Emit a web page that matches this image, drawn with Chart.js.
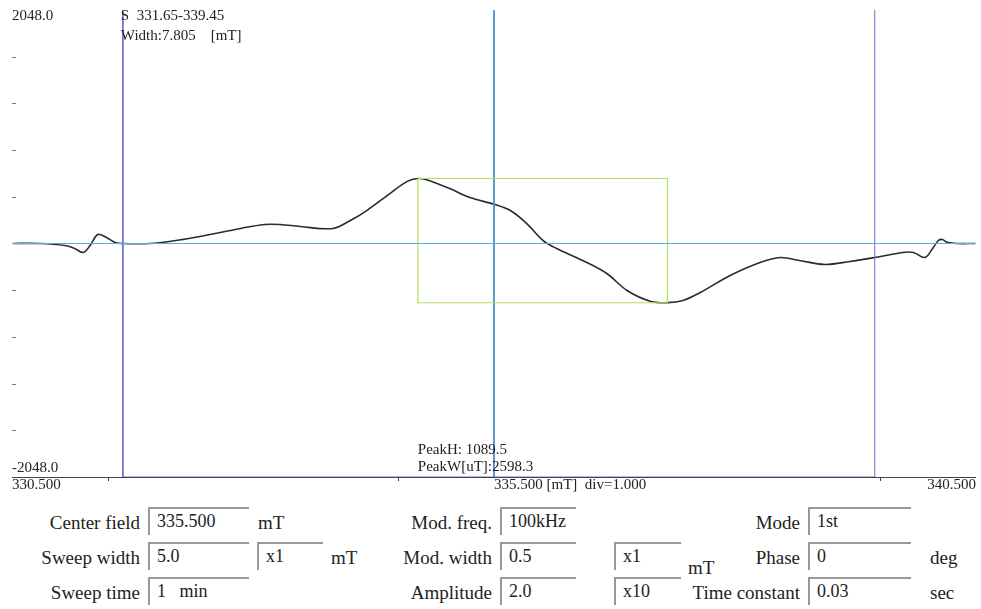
<!DOCTYPE html>
<html>
<head>
<meta charset="utf-8">
<script src="https://cdn.jsdelivr.net/npm/chart.js@4.4.1/dist/chart.umd.min.js"></script>
<style>
  body { margin: 0; background: #fff; font-family: "Liberation Serif", "Times New Roman", serif; color: #222; }
  #wrap { position: relative; width: 981px; height: 609px; overflow: hidden; }
  #chartBox { position: absolute; left: 0; top: 0; width: 981px; height: 500px; }
  .lbl { position: absolute; font-size: 19px; line-height: 22px; white-space: nowrap; }
  .box { position: absolute; height: 28px; border-top: 2px solid #999; border-left: 2px solid #999;
         font-size: 18px; line-height: 24px; padding-left: 7px; box-sizing: border-box; white-space: nowrap; }
</style>
</head>
<body>
<div id="wrap">
  <div id="chartBox"><canvas id="esrChart" width="981" height="500"></canvas></div>

  <!-- parameter panel -->
  <div class="lbl" style="right:841px; top:512px;">Center field</div>
  <div class="box" style="left:148px; top:507px; width:101px;">335.500</div>
  <div class="lbl" style="left:258px; top:512px;">mT</div>

  <div class="lbl" style="right:841px; top:547px;">Sweep width</div>
  <div class="box" style="left:148px; top:542px; width:101px;">5.0</div>
  <div class="box" style="left:257px; top:542px; width:66px;">x1</div>
  <div class="lbl" style="left:331px; top:547px;">mT</div>

  <div class="lbl" style="right:841px; top:582px;">Sweep time</div>
  <div class="box" style="left:148px; top:577px; width:101px;">1&nbsp;&nbsp;&nbsp;min</div>

  <div class="lbl" style="right:489px; top:512px;">Mod. freq.</div>
  <div class="box" style="left:500px; top:507px; width:76px;">100kHz</div>

  <div class="lbl" style="right:489px; top:547px;">Mod. width</div>
  <div class="box" style="left:500px; top:542px; width:76px;">0.5</div>
  <div class="box" style="left:614px; top:542px; width:67px;">x1</div>
  <div class="lbl" style="left:688px; top:557px;">mT</div>

  <div class="lbl" style="right:489px; top:582px;">Amplitude</div>
  <div class="box" style="left:500px; top:577px; width:76px;">2.0</div>
  <div class="box" style="left:614px; top:577px; width:67px;">x10</div>

  <div class="lbl" style="right:181px; top:512px;">Mode</div>
  <div class="box" style="left:808px; top:507px; width:103px;">1st</div>

  <div class="lbl" style="right:181px; top:547px;">Phase</div>
  <div class="box" style="left:808px; top:542px; width:103px;">0</div>
  <div class="lbl" style="left:930px; top:547px;">deg</div>

  <div class="lbl" style="right:181px; top:582px;">Time constant</div>
  <div class="box" style="left:808px; top:577px; width:103px;">0.03</div>
  <div class="lbl" style="left:930px; top:582px;">sec</div>
</div>

<script>
// Axis ranges
const fieldMin = 330.5;
const fieldMax = 340.5;
const signalMin = -2048;
const signalMax = 2048;

// Spectrum trace (field in mT, signal in counts)
const spectrumField = [
  330.51, 330.79, 331.05, 331.15, 331.24, 331.31, 331.39, 331.48, 331.57, 331.64,
  331.93, 332.20, 332.45, 332.87, 333.12, 333.28, 333.49, 333.83, 334.01, 334.18,
  334.42, 334.60, 334.71, 334.80, 335.04, 335.25, 335.51, 335.67, 335.84, 336.01,
  336.15, 336.42, 336.67, 336.88, 337.12, 337.30, 337.46, 337.64, 337.95, 338.26,
  338.47, 338.67, 338.93, 339.19, 339.45, 339.74, 339.85, 339.97, 340.05, 340.11,
  340.15, 340.20, 340.30, 340.49
];
const spectrumSignal = [
  0, 0, -18, -44, -79, -18, 79, 53, 9, 0,
  0, 26, 61, 132, 167, 167, 149, 132, 202, 289,
  438, 545, 570, 560, 482, 403, 342, 289, 175, 26,
  -44, -149, -263, -412, -506, -519, -500, -430, -281, -167,
  -123, -149, -184, -158, -123, -79, -79, -123, -44, 26,
  35, 11, 0, 0
];

// Markers
const sweepMarkers = [331.65, 339.45];
const centerField = 335.5;
const peakFields = [334.71, 337.30];
const peakValues = [570, -519.5];

// Tick labels and marks
const yDashLevels = [-1638.4, -1228.8, -819.2, -409.6, 409.6, 819.2, 1228.8, 1638.4];
const xTickFields = [331.5, 334.5, 339.5];
const yTopLabel = "2048.0";
const yBottomLabel = "-2048.0";
const xLeftLabel = "330.500";
const xRightLabel = "340.500";
const xCenterLabel = "335.500 [mT]  div=1.000";
const rangeLabel = "S  331.65-339.45";
const widthLabel = "Width:7.805    [mT]";
const peakHLabel = "PeakH: 1089.5";
const peakWLabel = "PeakW[uT]:2598.3";

const pts = (xs, ys) => xs.map((x, i) => ({ x: x, y: ys[i] }));

// Extra drawing: axis line, dashes, texts
const overlayPlugin = {
  id: "overlay",
  beforeDatasetsDraw(chart) {
    const { ctx, chartArea, scales } = chart;
    ctx.save();
    ctx.strokeStyle = "#444";
    ctx.lineWidth = 1;
    ctx.beginPath();
    ctx.moveTo(chartArea.left, chartArea.bottom + 0.5);
    ctx.lineTo(chartArea.right, chartArea.bottom + 0.5);
    ctx.stroke();
    // small ticks under the axis
    xTickFields.forEach((f) => {
      const px = Math.round(scales.x.getPixelForValue(f)) + 0.5;
      ctx.beginPath();
      ctx.moveTo(px, chartArea.bottom);
      ctx.lineTo(px, chartArea.bottom + 4);
      ctx.stroke();
    });
    // y dashes
    ctx.strokeStyle = "#777";
    yDashLevels.forEach((v) => {
      const py = Math.round(scales.y.getPixelForValue(v)) + 0.5;
      ctx.beginPath();
      ctx.moveTo(chartArea.left, py);
      ctx.lineTo(chartArea.left + 4, py);
      ctx.stroke();
    });
    ctx.restore();
  },
  afterDraw(chart) {
    const { ctx, chartArea, scales } = chart;
    ctx.save();
    ctx.fillStyle = "#222";
    ctx.font = '15px "Liberation Serif", serif';
    ctx.textBaseline = "middle";
    ctx.textAlign = "left";
    const xl = chartArea.left;
    const mk = scales.x.getPixelForValue(sweepMarkers[0]);
    const pk = scales.x.getPixelForValue(peakFields[0]);
    const cx = scales.x.getPixelForValue(centerField);
    ctx.fillText(yTopLabel, xl, 16);
    ctx.fillText(rangeLabel, mk - 2, 16);
    ctx.fillText(widthLabel, mk - 2, 36);
    ctx.fillText(yBottomLabel, xl, chartArea.bottom - 9);
    ctx.fillText(peakHLabel, pk, chartArea.bottom - 27);
    ctx.fillText(peakWLabel, pk, chartArea.bottom - 10);
    ctx.fillText(xLeftLabel, xl, chartArea.bottom + 8);
    ctx.fillText(xCenterLabel, cx, chartArea.bottom + 8);
    ctx.textAlign = "right";
    ctx.fillText(xRightLabel, chartArea.right, chartArea.bottom + 8);
    ctx.restore();
  }
};

const ctx = document.getElementById("esrChart");
new Chart(ctx, {
  type: "line",
  data: {
    datasets: [
      {
        // zero baseline
        data: pts([fieldMin, fieldMax], [0, 0]),
        borderColor: "#4fb0ee",
        borderWidth: 1
      },
      {
        // peak box
        data: pts(
          [peakFields[0], peakFields[1], peakFields[1], peakFields[0], peakFields[0]],
          [peakValues[0], peakValues[0], peakValues[1], peakValues[1], peakValues[0]]
        ),
        borderColor: "#b0e05a",
        borderWidth: 1.2
      },
      {
        // sweep range markers
        data: pts(
          [sweepMarkers[0], sweepMarkers[0], sweepMarkers[1], sweepMarkers[1]],
          [signalMax, signalMin, signalMin, signalMax]
        ),
        borderColor: "#6c6cd2",
        borderWidth: 1
      },
      {
        // center field line
        data: pts([centerField, centerField], [signalMax, signalMin]),
        borderColor: "#4a8ad0",
        borderWidth: 1
      },
      {
        // spectrum
        data: pts(spectrumField, spectrumSignal),
        borderColor: "#2b2b2b",
        borderWidth: 1.6,
        tension: 0.35
      }
    ]
  },
  options: {
    responsive: false,
    animation: false,
    events: [],
    elements: { point: { radius: 0 } },
    layout: { padding: { left: 12, right: 5, top: 10, bottom: 23 } },
    plugins: { legend: { display: false }, tooltip: { enabled: false } },
    scales: {
      x: { type: "linear", min: fieldMin, max: fieldMax, display: false },
      y: { type: "linear", min: signalMin, max: signalMax, display: false }
    }
  },
  plugins: [overlayPlugin]
});
</script>
</body>
</html>
